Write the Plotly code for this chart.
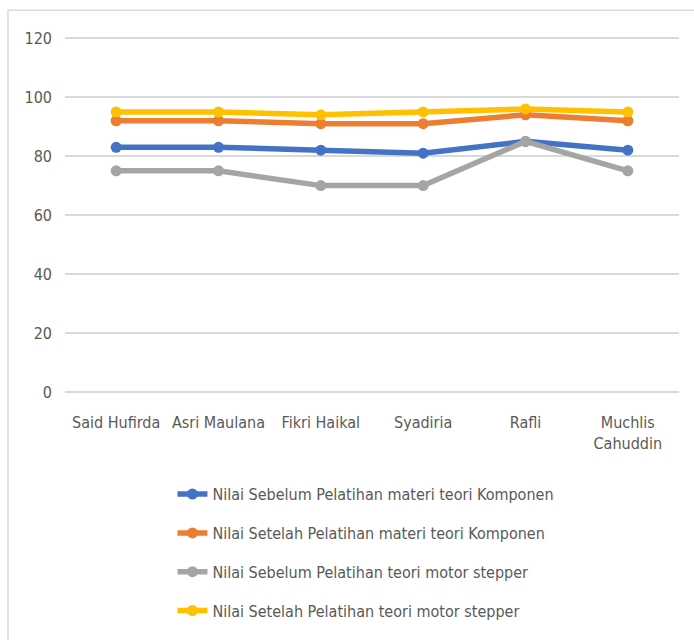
import plotly.graph_objects as go

categories = ["Said Hufirda", "Asri Maulana", "Fikri Haikal", "Syadiria", "Rafli", "Muchlis<br>Cahuddin"]
series_names = [
    "Nilai Sebelum Pelatihan materi teori Komponen",
    "Nilai Setelah Pelatihan materi teori Komponen",
    "Nilai Sebelum Pelatihan teori motor stepper",
    "Nilai Setelah Pelatihan teori motor stepper",
]
sebelum_komponen = [83, 83, 82, 81, 85, 82]
setelah_komponen = [92, 92, 91, 91, 94, 92]
sebelum_stepper = [75, 75, 70, 70, 85, 75]
setelah_stepper = [95, 95, 94, 95, 96, 95]
y_ticks = [0, 20, 40, 60, 80, 100, 120]

colors = ["#4472C4", "#ED7D31", "#A5A5A5", "#FFC000"]
values = [sebelum_komponen, setelah_komponen, sebelum_stepper, setelah_stepper]

FONT = "Liberation Sans Narrow, DejaVu Sans Condensed, Arial Narrow, sans-serif"

fig = go.Figure()
for i, (name, vals, col) in enumerate(zip(series_names, values, colors)):
    fig.add_trace(go.Scatter(
        x=categories, y=vals, name=name, mode="lines+markers",
        line=dict(color=col, width=5.5),
        marker=dict(color=col, size=11),
        legendgroup=f"g{i}",
    ))

fig.update_layout(
    width=694, height=640,
    margin=dict(l=65, r=15, t=37, b=245),
    paper_bgcolor="white", plot_bgcolor="white",
    font=dict(family=FONT, color="#595959", size=15),
    showlegend=True,
    legend=dict(
        x=0.175, y=-0.24, xanchor="left", yanchor="top",
        orientation="v", tracegroupgap=15,
        font=dict(family=FONT, color="#595959", size=16),
        bgcolor="rgba(0,0,0,0)",
    ),
    xaxis=dict(
        range=[-0.5, 5.5],
        showgrid=False, showline=False, zeroline=False,
        tickfont=dict(family=FONT, color="#595959", size=16),
        ticks="", ticklabelstandoff=19,
    ),
    yaxis=dict(
        range=[0, 120.4], tickvals=y_ticks,
        showgrid=True, gridcolor="#D9D9D9", gridwidth=1.5,
        zeroline=True, zerolinecolor="#D9D9D9", zerolinewidth=1.5,
        showline=False, ticks="",
        tickfont=dict(family=FONT, color="#595959", size=16),
        ticklabelstandoff=12,
    ),
    shapes=[
        dict(type="rect", xref="paper", yref="paper",
             x0=(8 - 65) / 614, x1=(700 - 65) / 614,
             y0=(395 - 650) / 358, y1=(395 - 10) / 358,
             line=dict(color="#D9D9D9", width=1.5), fillcolor="rgba(0,0,0,0)", layer="below"),
    ],
)

fig.write_html("out.html")
